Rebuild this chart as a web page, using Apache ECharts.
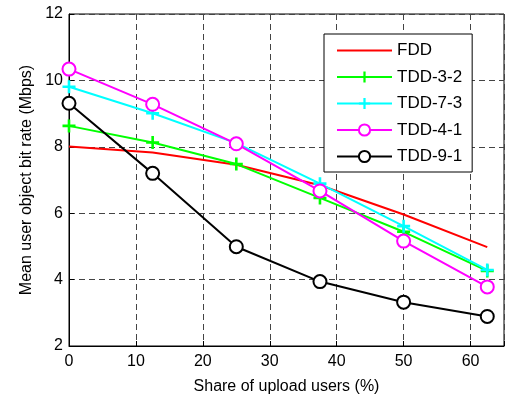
<!DOCTYPE html>
<html>
<head>
<meta charset="utf-8">
<script src="https://cdn.jsdelivr.net/npm/echarts@6/dist/echarts.min.js"></script>
<style>
html, body { margin: 0; padding: 0; background: #fff; }
#chart { width: 507px; height: 400px; }
</style>
</head>
<body>
<div id="chart"></div>
<script>
// share of upload users (%)
var shares = [0, 12.5, 25, 37.5, 50, 62.5];

// mean user object bit rate (Mbps)
var fdd = [8.01, 7.83, 7.46, 6.84, 5.96, 4.98];
var tdd32 = [8.63, 8.13, 7.48, 6.46, 5.44, 4.26];
var tdd73 = [9.81, 9.01, 8.11, 6.89, 5.61, 4.29];
var tdd41 = [10.34, 9.28, 8.09, 6.67, 5.16, 3.78];
var tdd91 = [9.31, 7.20, 4.99, 3.94, 3.32, 2.89];

var FONT = '"Liberation Sans", Arial, sans-serif';
var PLUS = 'path://M4,0h2v4h4v2h-4v4h-2v-4h-4v-2h4z';

function pairs(vals) {
    return vals.map(function (v, i) { return [shares[i], v]; });
}

function makeSeries(name, vals, color, symbol) {
    var s = {
        name: name,
        type: 'line',
        data: pairs(vals),
        lineStyle: { color: color, width: 2 },
        itemStyle: { color: color },
        symbol: 'none',
        animation: false
    };
    if (symbol === 'plus') {
        s.symbol = PLUS;
        s.symbolSize = 13;
    } else if (symbol === 'circle') {
        s.symbol = 'emptyCircle';
        s.symbolSize = 13;
        s.itemStyle = { color: color, borderColor: color, borderWidth: 2 };
    }
    return s;
}

var chart = echarts.init(document.getElementById('chart'));
chart.setOption({
    backgroundColor: '#fff',
    textStyle: { fontFamily: FONT },
    grid: {
        left: 69, right: -3, top: 14, bottom: 52,
        show: true, borderColor: '#000', borderWidth: 1
    },
    legend: {
        data: [
            { name: 'FDD', itemStyle: { opacity: 0 } },
            'TDD-3-2', 'TDD-7-3', 'TDD-4-1', 'TDD-9-1'
        ],
        orient: 'vertical',
        left: 324, top: 34,
        padding: [8, 10, 7, 12],
        itemGap: 9.5,
        itemWidth: 55,
        itemHeight: 14,
        backgroundColor: '#fff',
        borderColor: '#000',
        borderWidth: 1,
        textStyle: { fontFamily: FONT, fontSize: 17, color: '#000' }
    },
    xAxis: {
        type: 'value',
        min: 0, max: 65, interval: 10,
        name: 'Share of upload users (%)',
        nameLocation: 'middle',
        nameGap: 33,
        nameTextStyle: { fontFamily: FONT, fontSize: 16, color: '#000' },
        axisLine: { show: true, lineStyle: { color: '#000' } },
        axisTick: { show: true, inside: true, length: 5, lineStyle: { color: '#000' } },
        axisLabel: {
            fontFamily: FONT, fontSize: 16, color: '#000', margin: 8,
            formatter: function (v) { return v % 10 === 0 ? String(v) : ''; }
        },
        splitLine: { show: true, lineStyle: { color: '#444', type: [6, 4], width: 1 } }
    },
    yAxis: {
        type: 'value',
        min: 2, max: 12, interval: 2,
        name: 'Mean user object bit rate (Mbps)',
        nameLocation: 'middle',
        nameGap: 34,
        nameTextStyle: { fontFamily: FONT, fontSize: 16, color: '#000' },
        axisLine: { show: true, lineStyle: { color: '#000' } },
        axisTick: { show: true, inside: true, length: 5, lineStyle: { color: '#000' } },
        axisLabel: { fontFamily: FONT, fontSize: 16, color: '#000', margin: 6 },
        splitLine: { show: true, lineStyle: { color: '#444', type: [6, 4], width: 1 } }
    },
    series: [
        makeSeries('FDD', fdd, '#ff0000', 'none'),
        makeSeries('TDD-3-2', tdd32, '#00ff00', 'plus'),
        makeSeries('TDD-7-3', tdd73, '#00ffff', 'plus'),
        makeSeries('TDD-4-1', tdd41, '#ff00ff', 'circle'),
        makeSeries('TDD-9-1', tdd91, '#000000', 'circle')
    ]
});
</script>
</body>
</html>
